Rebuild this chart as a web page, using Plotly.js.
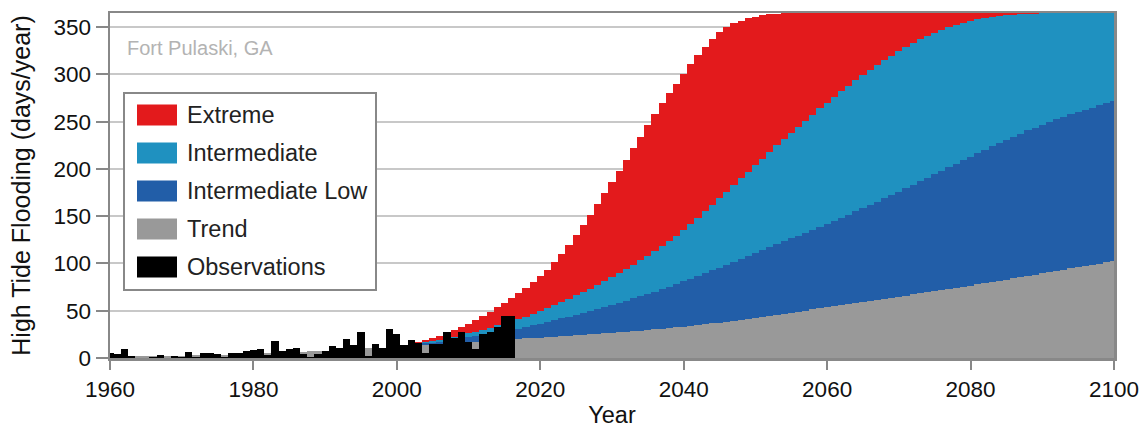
<!DOCTYPE html>
<html>
<head>
<meta charset="utf-8">
<script src="https://cdn.plot.ly/plotly-3.0.1.min.js"></script>
<style>html,body{margin:0;padding:0;background:#fff;}#chart{width:1143px;height:428px;}</style>
</head>
<body>
<div id="chart"></div>
<script>
// ---- data ----
const years = [1960,1961,1962,1963,1964,1965,1966,1967,1968,1969,
1970,1971,1972,1973,1974,1975,1976,1977,1978,1979,
1980,1981,1982,1983,1984,1985,1986,1987,1988,1989,
1990,1991,1992,1993,1994,1995,1996,1997,1998,1999,
2000,2001,2002,2003,2004,2005,2006,2007,2008,2009,
2010,2011,2012,2013,2014,2015,2016,2017,2018,2019,
2020,2021,2022,2023,2024,2025,2026,2027,2028,2029,
2030,2031,2032,2033,2034,2035,2036,2037,2038,2039,
2040,2041,2042,2043,2044,2045,2046,2047,2048,2049,
2050,2051,2052,2053,2054,2055,2056,2057,2058,2059,
2060,2061,2062,2063,2064,2065,2066,2067,2068,2069,
2070,2071,2072,2073,2074,2075,2076,2077,2078,2079,
2080,2081,2082,2083,2084,2085,2086,2087,2088,2089,
2090,2091,2092,2093,2094,2095,2096,2097,2098,2099,2100];

// Observations 1960-2016
const observations = [5,4,9,2,0,0,1,3,0,2,
1,6,1,5,5,4,1,5,5,7,
8,10,3,18,7,10,11,4,1,4,
7,13,11,20,14,27,2,15,11,31,
25,14,19,16,5,15,15,27,21,28,
17,9,25,27,33,44,44];

// Trend 1960-2100
const trend = [1.2,1.3,1.4,1.5,1.6,1.7,1.8,1.9,2.1,2.2,
2.4,2.6,2.7,2.9,3.1,3.3,3.5,3.7,4.0,4.2,
4.5,4.8,5.1,5.4,5.7,6.0,6.3,6.7,7.0,7.4,
7.8,8.2,8.6,9.0,9.4,9.8,10.2,10.6,11.1,11.5,
12.0,12.4,12.9,13.3,13.8,14.3,14.8,15.3,15.8,16.3,
16.8,17.3,17.8,18.3,18.8,19.3,19.8,20.3,20.7,21.2,
21.6,22.0,22.5,22.9,23.4,23.9,24.4,24.9,25.5,26.0,
26.6,27.2,27.8,28.4,29.0,29.7,30.4,31.1,31.8,32.5,
33.3,34.1,34.9,35.7,36.6,37.5,38.4,39.3,40.3,41.3,
42.3,43.3,44.4,45.5,46.6,47.8,49.0,50.2,51.4,52.7,
54.0,55.1,56.2,57.3,58.4,59.5,60.6,61.7,62.8,63.9,
65.0,66.1,67.2,68.3,69.4,70.5,71.7,72.9,74.1,75.3,
76.5,77.8,79.1,80.4,81.7,83.0,84.3,85.6,86.9,88.2,
89.5,90.8,92.1,93.4,94.7,96.0,97.3,98.6,99.9,101.2,102.5];

// Scenarios 2000-2100
const intermediateLow = [12,12.8,13.6,14.5,15.4,16.4,17.4,18.4,19.5,20.6,
21.8,23,24.2,25.5,26.8,28.1,29.5,31,32.8,34.6,
36.4,38.2,40,41.9,43.8,45.8,47.8,49.8,51.9,54,
56.2,58.4,60.7,63,65.4,67.8,70.3,72.8,75.4,78.1,
81,83.8,86.7,89.6,92.6,95.6,98.7,101.9,105.1,108.3,
111.5,114.6,117.6,120.6,123.6,126.6,129.6,132.6,135.7,138.8,
142,145.2,148.4,151.7,155,158.4,161.8,165.3,168.8,172.4,
176,179.7,183.4,187.1,190.8,194.5,198.2,201.9,205.6,209.3,
213,216.6,220.2,223.8,227.3,230.8,234.2,237.5,240.7,243.8,
246.8,249.7,252.5,255.2,257.8,260.3,262.7,265,267.2,269.4,271.6];

const intermediate = [12.1,12.9,13.8,14.8,16.6,18,19.5,21,22.6,24.3,
26.1,28,30,32.2,34.5,36.8,39,41.2,43.8,46.7,
49.7,52.8,56,59.3,62.7,66.2,69.7,73.3,77.2,81.2,
85.4,89.7,94.1,98.6,103.2,108,113,118.2,123.6,129.2,
135,141.5,148,155,162,169,176,183,190,197,
204,211,218,225,231.5,238,244.5,251,257.5,264,
270,276,282,288,294,299.5,304.8,310,315,320,
324.7,329.2,333.4,337.3,340.9,344.3,347.3,350.1,352.6,354.8,
356.7,358.3,359.6,360.7,361.6,362.4,363,363.5,363.9,364.3,
364.6,364.8,365,365,365,365,365,365,365,365,365];

const extreme = [12.2,13.5,15,16.7,18.6,20.8,23.3,26.1,29.2,32.6,
36.3,40.3,44.6,49.2,53.8,58.4,63.3,68.6,74.2,80,
86.5,93.5,101.5,110.5,120,130,140.8,151.8,163,174.5,
186,198,210,222,234,246,258,269.5,280,290,
300,311,320.5,329.5,337.5,344.5,350,354,357,359.3,
361,362.4,363.5,364.2,364.7,365,365,365,365,365,
365,365,365,365,365,365,365,365,365,365,
365,365,365,365,365,365,365,365,365,365,
365,365,365,365,365,365,365,365,365,365,
365,365,365,365,365,365,365,365,365,365,365];

const seriesNames = ['Extreme','Intermediate','Intermediate Low','Trend','Observations'];
const tickVals = [1960,1980,2000,2020,2040,2060,2080,2100];
const yTickVals = [0,50,100,150,200,250,300,350];

// ---- styling ----
const colors = ['#e31a1c','#1f91c0','#225ea8','#999999','#000000'];
const FONT = '"Liberation Sans", Arial, Helvetica, sans-serif';
const projYears = years.slice(40);
const obsYears = years.slice(0, observations.length);

function barTrace(name, x, y, color){
  return {type:'bar', name:name, x:x, y:y, width:1,
    marker:{color:color, line:{width:0}}, showlegend:false, hoverinfo:'x+y+name'};
}
const traces = [
  barTrace(seriesNames[0], projYears, extreme, colors[0]),
  barTrace(seriesNames[1], projYears, intermediate, colors[1]),
  barTrace(seriesNames[2], projYears, intermediateLow, colors[2]),
  barTrace(seriesNames[3], years, trend, colors[3]),
  barTrace(seriesNames[4], obsYears, observations, colors[4])
];

// pixel -> paper helpers for the drawn legend box
const ML=110, MT=13, PW=1004, PH=345;
const px = x => (x-ML)/PW;
const py = y => (MT+PH-y)/PH;

const shapes = [{type:'rect', xref:'paper', yref:'paper', x0:px(124), x1:px(376), y0:py(290), y1:py(93),
  line:{color:'#888888', width:2}, fillcolor:'#ffffff', layer:'above'}];
const annotations = [{xref:'paper', yref:'paper', x:px(125), y:py(48), xanchor:'left', yanchor:'middle',
  text:'Fort Pulaski, GA', showarrow:false, font:{family:FONT, size:20, color:'#b3b3b3'}}];
const legendY = [115,153,191,229,267];
seriesNames.forEach((n,i)=>{
  shapes.push({type:'rect', xref:'paper', yref:'paper', x0:px(137), x1:px(177),
    y0:py(legendY[i]+10.5), y1:py(legendY[i]-10.5), line:{width:0}, fillcolor:colors[i], layer:'above'});
  annotations.push({xref:'paper', yref:'paper', x:px(185), y:py(legendY[i]), xanchor:'left', yanchor:'middle',
    text:n, showarrow:false, font:{family:FONT, size:23.5, color:'#222222'}});
});

const layout = {
  width:1143, height:428,
  margin:{l:ML, r:1143-ML-PW, t:MT, b:428-MT-PH, pad:0},
  paper_bgcolor:'#ffffff', plot_bgcolor:'#ffffff',
  barmode:'overlay', bargap:0,
  font:{family:FONT, size:22, color:'#111111'},
  showlegend:false,
  xaxis:{range:[1960,2100], tickvals:tickVals, ticks:'outside', ticklen:9, tickwidth:2, tickcolor:'#888888',
    showline:true, linecolor:'#888888', linewidth:2.5, mirror:true, showgrid:false, zeroline:false,
    tickfont:{family:FONT, size:22.5, color:'#111111'},
    title:{text:'Year', font:{family:FONT, size:23.5, color:'#111111'}, standoff:8}},
  yaxis:{range:[0,365], tickvals:yTickVals, ticks:'outside', ticklen:12, tickwidth:2, tickcolor:'#888888',
    showline:true, linecolor:'#888888', linewidth:2.5, mirror:true, showgrid:true, gridcolor:'#c8c8c8', gridwidth:2,
    zeroline:false, tickfont:{family:FONT, size:22.5, color:'#111111'},
    title:{text:'High Tide Flooding (days/year)', font:{family:FONT, size:25, color:'#111111'}, standoff:16}},
  shapes:shapes, annotations:annotations
};
Plotly.newPlot('chart', traces, layout, {staticPlot:true, displayModeBar:false});
</script>
</body>
</html>
